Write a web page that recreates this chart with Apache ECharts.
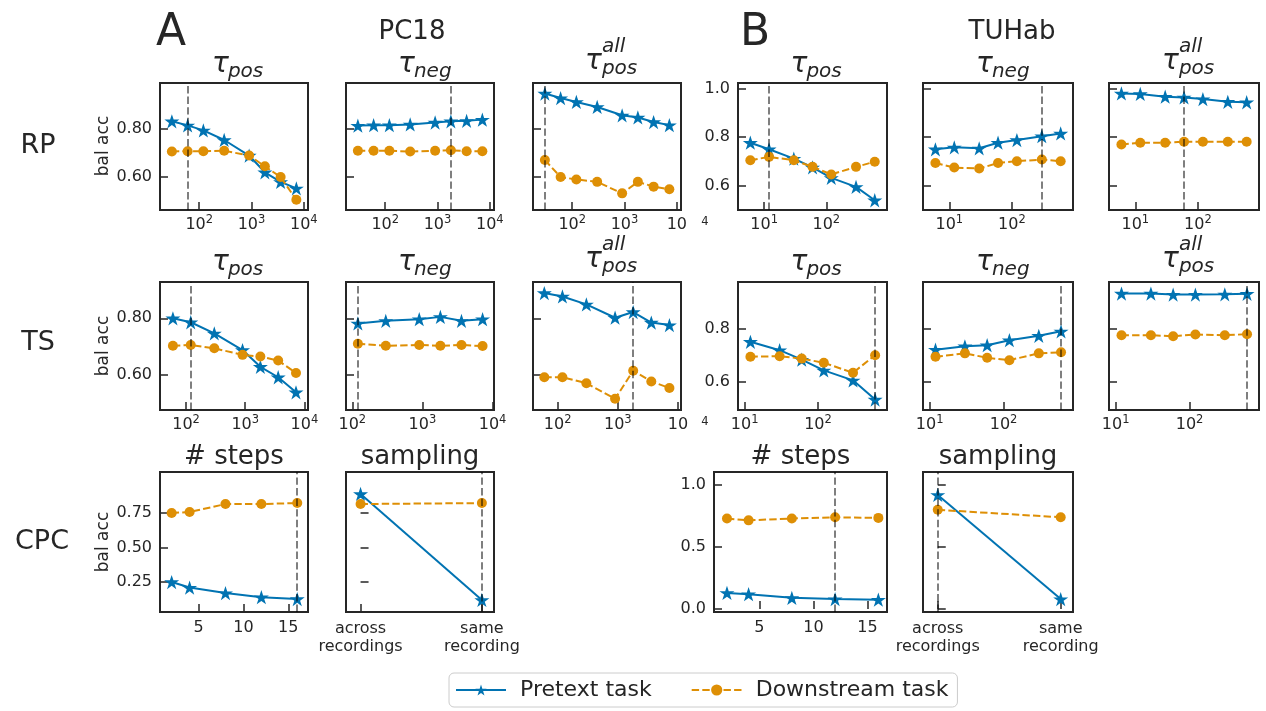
<!DOCTYPE html>
<html>
<head>
<meta charset="utf-8">
<script src="https://cdn.jsdelivr.net/npm/echarts@6/dist/echarts.min.js"></script>
<style>
html, body { margin: 0; padding: 0; background: #ffffff; }
#chart { width: 1266px; height: 711px; }
</style>
</head>
<body>
<div id="chart"></div>
<script>
// ---- hyperparameter grids (x values) ----
const PC18_TAU = [30, 60, 120, 300, 900, 1800, 3600, 7200];
const PC18_TAU_TS = [60, 120, 300, 900, 1800, 3600, 7200];
const PC18_NEG_TS = [120, 300, 900, 1800, 3600, 7200];
const TUH_TAU = [6, 12, 30, 60, 120, 300, 600];
const TUH_TAU_TS = [12, 30, 60, 120, 300, 600];
const CPC_STEPS = [2, 4, 8, 12, 16];
const CPC_SAMPLING = ['across\nrecordings', 'same\nrecording'];

// ---- tick labels ----
const X_TICKS_PC18 = [100, 1000, 10000];
const X_TICKS_TUH = [10, 100];
const X_TICKS_STEPS = [5, 10, 15];
const Y_TICKS_2 = [0.6, 0.8];
const Y_TICKS_3 = [0.6, 0.8, 1.0];
const Y_TICKS_CPC_PC18 = [0.25, 0.5, 0.75];
const Y_TICKS_CPC_TUH = [0, 0.5, 1.0];

// ---- PC18, relative positioning ----
const pc18RpPosPretext = [0.833, 0.816, 0.795, 0.755, 0.69, 0.62, 0.58, 0.553];
const pc18RpPosDownstream = [0.707, 0.708, 0.708, 0.71, 0.69, 0.645, 0.60, 0.505];
const pc18RpNegPretext = [0.815, 0.817, 0.817, 0.82, 0.828, 0.833, 0.835, 0.84];
const pc18RpNegDownstream = [0.71, 0.71, 0.71, 0.707, 0.71, 0.712, 0.708, 0.708];
const pc18RpAllPretext = [0.949, 0.93, 0.914, 0.893, 0.858, 0.849, 0.83, 0.817];
const pc18RpAllDownstream = [0.671, 0.60, 0.59, 0.58, 0.532, 0.58, 0.56, 0.549];
// ---- PC18, temporal shuffling ----
const pc18TsPosPretext = [0.80, 0.786, 0.747, 0.688, 0.629, 0.592, 0.539];
const pc18TsPosDownstream = [0.703, 0.706, 0.694, 0.671, 0.665, 0.651, 0.607];
const pc18TsNegPretext = [0.782, 0.791, 0.797, 0.805, 0.791, 0.797];
const pc18TsNegDownstream = [0.71, 0.703, 0.706, 0.703, 0.706, 0.702];
const pc18TsAllPretext = [0.889, 0.877, 0.849, 0.802, 0.822, 0.785, 0.776];
const pc18TsAllDownstream = [0.592, 0.592, 0.571, 0.516, 0.615, 0.577, 0.554];
// ---- TUHab, relative positioning ----
const tuhRpPosPretext = [0.777, 0.75, 0.712, 0.676, 0.633, 0.596, 0.541];
const tuhRpPosDownstream = [0.705, 0.719, 0.705, 0.678, 0.647, 0.678, 0.699];
const tuhRpNegPretext = [0.75, 0.758, 0.754, 0.777, 0.788, 0.804, 0.815];
const tuhRpNegDownstream = [0.694, 0.675, 0.671, 0.694, 0.701, 0.708, 0.701];
const tuhRpAllPretext = [0.979, 0.977, 0.966, 0.963, 0.956, 0.945, 0.943];
const tuhRpAllDownstream = [0.77, 0.777, 0.777, 0.781, 0.781, 0.781, 0.781];
// ---- TUHab, temporal shuffling ----
const tuhTsPosPretext = [0.752, 0.72, 0.684, 0.643, 0.605, 0.532];
const tuhTsPosDownstream = [0.695, 0.697, 0.688, 0.672, 0.634, 0.701];
const tuhTsNegPretext = [0.722, 0.735, 0.739, 0.758, 0.775, 0.792];
const tuhTsNegDownstream = [0.695, 0.708, 0.691, 0.682, 0.708, 0.712];
const tuhTsAllPretext = [0.936, 0.936, 0.932, 0.932, 0.933, 0.935];
const tuhTsAllDownstream = [0.777, 0.777, 0.773, 0.78, 0.777, 0.781];
// ---- contrastive predictive coding ----
const pc18CpcStepsPretext = [0.25, 0.21, 0.17, 0.14, 0.127];
const pc18CpcStepsDownstream = [0.75, 0.757, 0.815, 0.815, 0.822];
const pc18CpcSamplingPretext = [0.888, 0.12];
const pc18CpcSamplingDownstream = [0.815, 0.822];
const tuhCpcStepsPretext = [0.13, 0.12, 0.09, 0.08, 0.075];
const tuhCpcStepsDownstream = [0.73, 0.715, 0.73, 0.74, 0.735];
const tuhCpcSamplingPretext = [0.92, 0.08];
const tuhCpcSamplingDownstream = [0.80, 0.74];

// ---- selected (default) hyperparameter values ----
const pc18RpSelected = [60, 1800, 30];
const pc18TsSelected = [120, 120, 1800];
const tuhRpSelected = [12, 300, 60];
const tuhTsSelected = [600, 600, 600];
const pc18CpcSelected = [16, 1];
const tuhCpcSelected = [12, 0];

// ---- styling ----
const INK = '#262626';
const BLUE = '#0173b2';
const ORANGE = '#de8f05';
const FONT = '"DejaVu Sans", sans-serif';
const DASH = [7.4, 3.2];

function starSymbol() {
  let d = '';
  for (let i = 0; i < 10; i++) {
    const r = i % 2 === 0 ? 50 : 19.1;
    const a = -Math.PI / 2 + i * Math.PI / 5;
    d += (i === 0 ? 'M' : 'L') + (50 + r * Math.cos(a)).toFixed(2) + ',' + (50 + r * Math.sin(a)).toFixed(2);
  }
  return 'path://' + d + 'Z';
}
const STAR = starSymbol();

// grid rows / columns (pixels)
const R1 = { top: 83, height: 127 };
const R2 = { top: 282, height: 128 };
const R3 = { top: 472, height: 140 };
const COL = {
  a1: { left: 160, width: 148 }, a2: { left: 346, width: 148 }, a3: { left: 533, width: 148 },
  b1: { left: 738, width: 149 }, b2: { left: 923, width: 150 }, b3: { left: 1109, width: 150 },
  bc1: { left: 714, width: 173 }
};

const Y_A_RP = { min: 0.4625, max: 0.993, ticks: Y_TICKS_2, dec: 2 };
const Y_B_RP = { min: 0.501, max: 1.022, ticks: Y_TICKS_3, dec: 1 };
const Y_A_TS = { min: 0.4765, max: 0.928, ticks: Y_TICKS_2, dec: 2 };
const Y_B_TS = { min: 0.492, max: 0.98, ticks: Y_TICKS_2, dec: 1 };
const Y_A_CPC = { min: 0.033, max: 1.047, ticks: Y_TICKS_CPC_PC18, dec: 2 };
const Y_B_CPC = { min: -0.024, max: 1.105, ticks: Y_TICKS_CPC_TUH, dec: 1 };

const panels = [
  // PC18 - RP
  { col: COL.a1, row: R1, xlog: [1.25, 4.08], xt: X_TICKS_PC18, y: Y_A_RP, yLab: true, xs: PC18_TAU, pre: pc18RpPosPretext, down: pc18RpPosDownstream, sel: pc18RpSelected[0], title: { sub: 'pos' } },
  { col: COL.a2, row: R1, xlog: [1.25, 4.08], xt: X_TICKS_PC18, y: Y_A_RP, xs: PC18_TAU, pre: pc18RpNegPretext, down: pc18RpNegDownstream, sel: pc18RpSelected[1], title: { sub: 'neg' } },
  { col: COL.a3, row: R1, xlog: [1.25, 4.08], xt: X_TICKS_PC18, y: Y_A_RP, cut: 4, xs: PC18_TAU, pre: pc18RpAllPretext, down: pc18RpAllDownstream, sel: pc18RpSelected[2], title: { sub: 'pos', sup: 'all' } },
  // TUHab - RP
  { col: COL.b1, row: R1, xlog: [0.58, 2.975], xt: X_TICKS_TUH, y: Y_B_RP, yLab: true, xs: TUH_TAU, pre: tuhRpPosPretext, down: tuhRpPosDownstream, sel: tuhRpSelected[0], title: { sub: 'pos' } },
  { col: COL.b2, row: R1, xlog: [0.58, 2.975], xt: X_TICKS_TUH, y: Y_B_RP, xs: TUH_TAU, pre: tuhRpNegPretext, down: tuhRpNegDownstream, sel: tuhRpSelected[1], title: { sub: 'neg' } },
  { col: COL.b3, row: R1, xlog: [0.58, 2.975], xt: X_TICKS_TUH, y: Y_B_RP, xs: TUH_TAU, pre: tuhRpAllPretext, down: tuhRpAllDownstream, sel: tuhRpSelected[2], title: { sub: 'pos', sup: 'all' } },
  // PC18 - TS
  { col: COL.a1, row: R2, xlog: [1.56, 4.06], xt: X_TICKS_PC18, y: Y_A_TS, yLab: true, xs: PC18_TAU_TS, pre: pc18TsPosPretext, down: pc18TsPosDownstream, sel: pc18TsSelected[0], title: { sub: 'pos' } },
  { col: COL.a2, row: R2, xlog: [1.91, 4.02], xt: X_TICKS_PC18, y: Y_A_TS, xs: PC18_NEG_TS, pre: pc18TsNegPretext, down: pc18TsNegDownstream, sel: pc18TsSelected[1], title: { sub: 'neg' } },
  { col: COL.a3, row: R2, xlog: [1.59, 4.05], xt: X_TICKS_PC18, y: Y_A_TS, cut: 4, xs: PC18_TAU_TS, pre: pc18TsAllPretext, down: pc18TsAllDownstream, sel: pc18TsSelected[2], title: { sub: 'pos', sup: 'all' } },
  // TUHab - TS
  { col: COL.b1, row: R2, xlog: [0.91, 2.94], xt: X_TICKS_TUH, y: Y_B_TS, yLab: true, xs: TUH_TAU_TS, pre: tuhTsPosPretext, down: tuhTsPosDownstream, sel: tuhTsSelected[0], title: { sub: 'pos' } },
  { col: COL.b2, row: R2, xlog: [0.91, 2.94], xt: X_TICKS_TUH, y: Y_B_TS, xs: TUH_TAU_TS, pre: tuhTsNegPretext, down: tuhTsNegDownstream, sel: tuhTsSelected[1], title: { sub: 'neg' } },
  { col: COL.b3, row: R2, xlog: [0.91, 2.94], xt: X_TICKS_TUH, y: Y_B_TS, xs: TUH_TAU_TS, pre: tuhTsAllPretext, down: tuhTsAllDownstream, sel: tuhTsSelected[2], title: { sub: 'pos', sup: 'all' } },
  // CPC
  { col: COL.a1, row: R3, xlin: [0.7, 17.2], xt: X_TICKS_STEPS, y: Y_A_CPC, yLab: true, xs: CPC_STEPS, pre: pc18CpcStepsPretext, down: pc18CpcStepsDownstream, sel: pc18CpcSelected[0], title: { text: '# steps' } },
  { col: COL.a2, row: R3, cats: CPC_SAMPLING, y: Y_A_CPC, pre: pc18CpcSamplingPretext, down: pc18CpcSamplingDownstream, sel: pc18CpcSelected[1], title: { text: 'sampling' } },
  { col: COL.bc1, row: R3, xlin: [0.8, 16.8], xt: X_TICKS_STEPS, y: Y_B_CPC, yLab: true, xs: CPC_STEPS, pre: tuhCpcStepsPretext, down: tuhCpcStepsDownstream, sel: tuhCpcSelected[0], title: { text: '# steps' } },
  { col: COL.b2, row: R3, cats: CPC_SAMPLING, y: Y_B_CPC, pre: tuhCpcSamplingPretext, down: tuhCpcSamplingDownstream, sel: tuhCpcSelected[1], title: { text: 'sampling' } }
];

const tickStyle = { show: true, inside: true, length: 8, lineStyle: { color: INK, width: 1.5 } };
const labelBase = { color: INK, fontSize: 16, fontFamily: FONT, margin: 8 };
const powRich = {
  b: { fontSize: 16, lineHeight: 22, color: INK, fontFamily: FONT },
  s: { fontSize: 11.5, lineHeight: 12, verticalAlign: 'top', color: INK, fontFamily: FONT }
};

const grids = [], xAxes = [], yAxes = [], series = [], graphics = [];

function txt(x, y, text, size, o) {
  const font = (o.italic ? 'italic ' : '') + size + 'px ' + FONT;
  return {
    type: 'text', x: x, y: y, rotation: o.rot || 0, silent: true, z: 10,
    style: {
      text: text, font: font, fill: o.fill || INK,
      textAlign: o.align || 'center', textVerticalAlign: 'middle',
      align: o.align || 'center', verticalAlign: 'middle'
    }
  };
}

panels.forEach((p, i) => {
  grids.push({
    left: p.col.left, top: p.row.top, width: p.col.width, height: p.row.height,
    show: true, borderColor: INK, borderWidth: 2, backgroundColor: 'transparent', containLabel: false
  });

  let xAxis;
  if (p.xlog) {
    xAxis = {
      type: 'log', logBase: 10, min: Math.pow(10, p.xlog[0]), max: Math.pow(10, p.xlog[1]),
      axisTick: Object.assign({ customValues: p.xt }, tickStyle),
      axisLabel: Object.assign({}, labelBase, {
        customValues: p.xt, rich: powRich, margin: 4,
        formatter: v => {
          const e = Math.round(Math.log10(v));
          return e === p.cut ? '{b|10}' : '{b|10}{s|' + e + '}';
        }
      })
    };
  } else if (p.xlin) {
    xAxis = {
      type: 'value', min: p.xlin[0], max: p.xlin[1],
      axisTick: Object.assign({ customValues: p.xt }, tickStyle),
      axisLabel: Object.assign({}, labelBase, { customValues: p.xt })
    };
  } else {
    const idx = p.cats.map((c, k) => k);
    xAxis = {
      type: 'value', min: -0.12, max: 1.1,
      axisTick: Object.assign({ customValues: idx }, tickStyle),
      axisLabel: Object.assign({}, labelBase, {
        customValues: idx, lineHeight: 18,
        formatter: v => p.cats[Math.round(v)]
      })
    };
  }
  Object.assign(xAxis, {
    gridIndex: i, axisLine: { show: false }, splitLine: { show: false }, minorTick: { show: false }
  });
  xAxes.push(xAxis);

  yAxes.push({
    type: 'value', gridIndex: i, min: p.y.min, max: p.y.max,
    axisLine: { show: false }, splitLine: { show: false },
    axisTick: Object.assign({ customValues: p.y.ticks }, tickStyle),
    axisLabel: Object.assign({}, labelBase, {
      show: !!p.yLab, customValues: p.y.ticks,
      formatter: v => v.toFixed(p.y.dec)
    })
  });

  const xs = p.xs || p.cats.map((c, k) => k);
  series.push({
    type: 'line', name: 'Pretext task', xAxisIndex: i, yAxisIndex: i,
    data: xs.map((x, k) => [x, p.pre[k]]),
    symbol: STAR, symbolSize: 15, symbolKeepAspect: true, showAllSymbol: true,
    lineStyle: { color: BLUE, width: 2 }, itemStyle: { color: BLUE },
    z: 3, animation: false
  });
  series.push({
    type: 'line', name: 'Downstream task', xAxisIndex: i, yAxisIndex: i,
    data: xs.map((x, k) => [x, p.down[k]]),
    symbol: 'circle', symbolSize: 10, showAllSymbol: true,
    lineStyle: { color: ORANGE, width: 2, type: DASH }, itemStyle: { color: ORANGE },
    z: 4, animation: false,
    markLine: {
      silent: true, symbol: ['none', 'none'], animation: false, z: 6,
      label: { show: false },
      lineStyle: { color: 'rgba(0,0,0,0.5)', width: 2, type: DASH },
      data: [{ xAxis: p.sel }]
    }
  });

  // panel title
  const cx = p.col.left + p.col.width / 2 + 3;
  const t = p.title;
  if (t.text) {
    graphics.push(txt(cx - 3, p.row.top - 15, t.text, 26, {}));
  } else {
    const base = p.row === R1 ? 65 : 263;
    const tauW = 15;
    const subW = t.sub.length * 11.4;
    const supW = t.sup ? t.sup.length * 9 : 0;
    const w = tauW + 1 + Math.max(subW, supW);
    const x0 = cx - w / 2;
    if (t.sup) {
      graphics.push(txt(x0, base - 3, '\u03c4', 28, { italic: true, align: 'left' }));
      graphics.push(txt(x0 + tauW + 2, base - 18, t.sup, 20, { italic: true, align: 'left' }));
      graphics.push(txt(x0 + tauW + 2, base + 4, t.sub, 20, { italic: true, align: 'left' }));
    } else {
      graphics.push(txt(x0, base, '\u03c4', 28, { italic: true, align: 'left' }));
      graphics.push(txt(x0 + tauW + 1, base + 7, t.sub, 20, { italic: true, align: 'left' }));
    }
  }
});

// figure letters, dataset names, row labels
graphics.push(txt(171, 34, 'A', 44, {}));
graphics.push(txt(412, 32, 'PC18', 26, {}));
graphics.push(txt(755, 34, 'B', 44, {}));
graphics.push(txt(1012, 32, 'TUHab', 26, {}));
graphics.push(txt(38, 146, 'RP', 27, {}));
graphics.push(txt(38, 343, 'TS', 27, {}));
graphics.push(txt(42, 542, 'CPC', 27, {}));
[146, 346, 542].forEach(cy => graphics.push(txt(104, cy, 'bal acc', 17, { rot: Math.PI / 2 })));
// superscript remnants of the clipped 10^4 labels
graphics.push(txt(705, 222, '4', 11.5, {}));
graphics.push(txt(705, 422, '4', 11.5, {}));

const chart = echarts.init(document.getElementById('chart'), null, { renderer: 'canvas' });
chart.setOption({
  backgroundColor: '#ffffff',
  animation: false,
  textStyle: { fontFamily: FONT },
  grid: grids,
  xAxis: xAxes,
  yAxis: yAxes,
  series: series,
  legend: {
    data: ['Pretext task', 'Downstream task'],
    left: 449, top: 673,
    itemWidth: 50, itemHeight: 14, itemGap: 39,
    padding: [6, 9, 6, 6],
    borderColor: '#cccccc', borderWidth: 1, borderRadius: 5,
    textStyle: { fontSize: 22, color: INK, fontFamily: FONT, padding: [0, 0, 0, 9] }
  },
  graphic: graphics
});
</script>
</body>
</html>
